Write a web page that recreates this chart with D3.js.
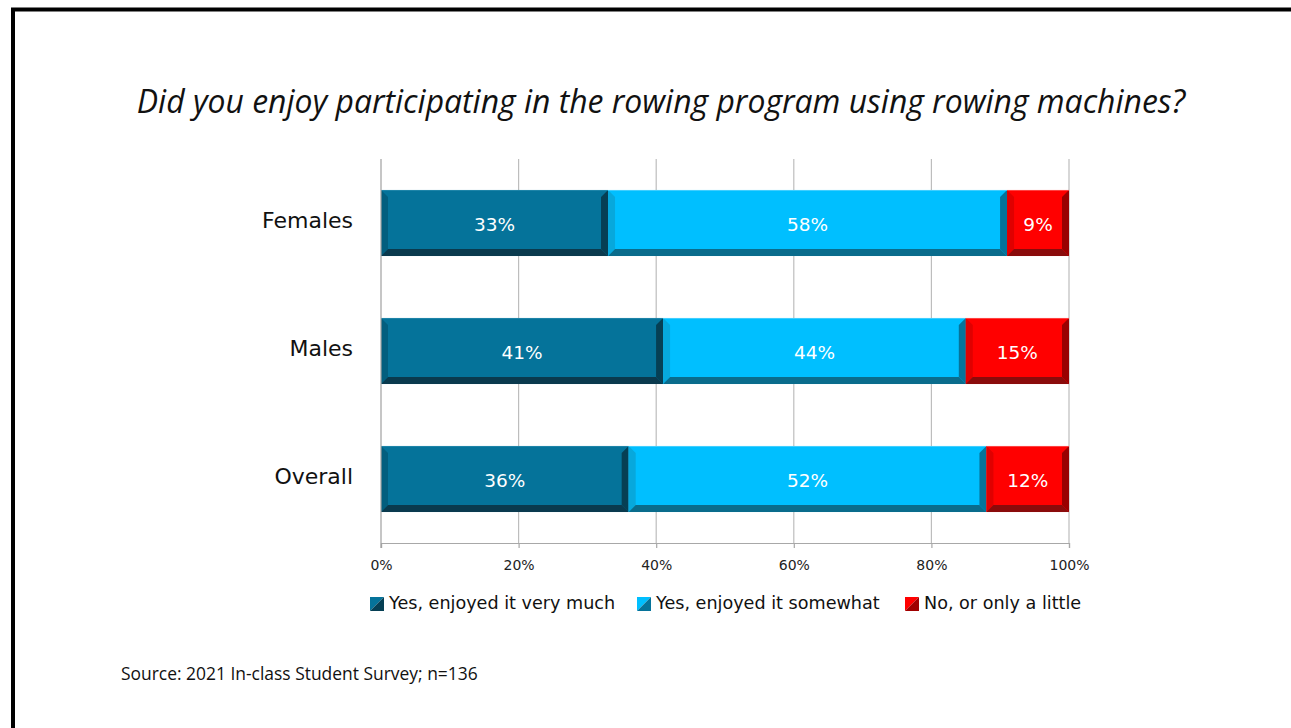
<!DOCTYPE html>
<html>
<head>
<meta charset="utf-8">
<script src="https://cdn.jsdelivr.net/npm/d3@7/dist/d3.min.js"></script>
<style>
  html, body { margin: 0; padding: 0; background: #fff; }
  svg { display: block; }
</style>
</head>
<body>
<svg id="chart" width="1291" height="728"></svg>
<script>
// Survey responses by group (percent)
const groups = ["Females", "Males", "Overall"];
const seriesNames = ["Yes, enjoyed it very much", "Yes, enjoyed it somewhat", "No, or only a little"];
const veryMuch = [33, 41, 36];
const somewhat = [58, 44, 52];
const little = [9, 15, 12];
const tickValues = [0, 20, 40, 60, 80, 100];

// Fill plus bevel shades for each series
const palette = [
  { main: "#05739a", top: "#2a8db0", left: "#035e7e", right: "#063f54", bottom: "#0a3a4e" },
  { main: "#00bfff", top: "#5fd6ff", left: "#07a8dc", right: "#06739a", bottom: "#0a6c8c" },
  { main: "#ff0000", top: "#ff6060", left: "#e00000", right: "#990000", bottom: "#8a0b0b" }
];

const svg = d3.select("#chart");
const W = 1291, H = 728;

// Slide frame
svg.append("path")
  .attr("d", `M13,${H} L13,9.5 L${W},9.5`)
  .attr("fill", "none").attr("stroke", "#000").attr("stroke-width", 4);

// Title
const title = svg.append("text")
  .attr("x", 661).attr("y", 113)
  .attr("text-anchor", "middle")
  .attr("font-family", "'Open Sans', sans-serif")
  .attr("font-style", "italic")
  .attr("font-size", 27)
  .attr("fill", "#111")
  .text("Did you enjoy participating in the rowing program using rowing machines?");
{
  const w = title.node().getComputedTextLength();
  title.attr("font-size", 27 * 1049 / w);
}

const margin = { left: 381, right: 1069, top: 159, bottom: 543 };
const x = d3.scaleLinear().domain([0, 100]).range([margin.left, margin.right]);
const y = d3.scaleBand().domain(groups).range([margin.top, margin.bottom]).paddingInner(0.484).paddingOuter(0.242);

// Gridlines
svg.append("g").selectAll("line")
  .data(tickValues.slice(1))
  .join("line")
  .attr("x1", d => x(d)).attr("x2", d => x(d))
  .attr("y1", margin.top).attr("y2", margin.bottom)
  .attr("stroke", "#bdbdbd").attr("stroke-width", 1.2);

// Bottom axis with ticks
const xAxis = d3.axisBottom(x).tickValues(tickValues).tickFormat(d => d + "%").tickSize(5).tickPadding(12);
const gx = svg.append("g").attr("transform", `translate(0,${margin.bottom})`).call(xAxis);
gx.select(".domain").attr("stroke", "#a8a8a8").attr("stroke-width", 1.2);
gx.selectAll(".tick line").attr("stroke", "#a8a8a8").attr("stroke-width", 1.2);
gx.selectAll(".tick text")
  .attr("font-family", "'DejaVu Sans', sans-serif")
  .attr("font-size", 14).attr("fill", "#222");

// Stacked data
const rows = groups.map((g, i) => ({ group: g, values: [veryMuch[i], somewhat[i], little[i]] }));
const segs = [];
rows.forEach(r => {
  let acc = 0;
  r.values.forEach((v, k) => {
    segs.push({ group: r.group, k, v, x0: acc, x1: acc + v });
    acc += v;
  });
});

const b = 7;
const barG = svg.append("g");
segs.forEach(s => {
  const x0 = x(s.x0), x1 = x(s.x1);
  const y0 = y(s.group), y1 = y0 + y.bandwidth();
  const c = palette[s.k];
  const g = barG.append("g");
  g.append("rect").attr("x", x0).attr("y", y0).attr("width", x1 - x0).attr("height", y1 - y0).attr("fill", c.main);
  const poly = (pts, fill) => g.append("polygon").attr("points", pts.map(p => p.join(",")).join(" ")).attr("fill", fill);
  poly([[x0, y0], [x0 + b, y0 + b], [x0 + b, y1 - b], [x0, y1]], c.left);
  poly([[x1, y0], [x1 - b, y0 + b], [x1 - b, y1 - b], [x1, y1]], c.right);
  poly([[x0, y1], [x0 + b, y1 - b], [x1 - b, y1 - b], [x1, y1]], c.bottom);
  // thin highlight along the top edge
  g.append("line").attr("x1", x0).attr("x2", x1).attr("y1", y0 + 0.5).attr("y2", y0 + 0.5)
    .attr("stroke", c.top).attr("stroke-width", 1).attr("opacity", 0.7);
  g.append("text")
    .attr("x", (x0 + x1) / 2).attr("y", (y0 + y1) / 2 + 1)
    .attr("text-anchor", "middle").attr("dominant-baseline", "central")
    .attr("font-family", "'DejaVu Sans', sans-serif")
    .attr("font-size", 18.5).attr("fill", "#fff")
    .text(s.v + "%");
});

// Left axis line drawn over bars' edge
svg.append("line")
  .attr("x1", margin.left).attr("x2", margin.left)
  .attr("y1", margin.top).attr("y2", margin.bottom + 5)
  .attr("stroke", "#a0a0a0").attr("stroke-width", 1.2);

// Category labels
svg.append("g").selectAll("text")
  .data(groups)
  .join("text")
  .attr("x", 353)
  .attr("y", d => y(d) + y.bandwidth() / 2 - 3)
  .attr("text-anchor", "end").attr("dominant-baseline", "central")
  .attr("font-family", "'DejaVu Sans', sans-serif")
  .attr("font-size", 22).attr("fill", "#111")
  .text(d => d);

// Legend
const legendX = [370, 637, 905];
const legend = svg.append("g");
seriesNames.forEach((name, k) => {
  const c = palette[k];
  const lx = legendX[k], ly = 597;
  const s = 14;
  legend.append("polygon").attr("points", `${lx},${ly} ${lx + s},${ly} ${lx},${ly + s}`).attr("fill", c.main);
  legend.append("polygon").attr("points", `${lx + s},${ly} ${lx + s},${ly + s} ${lx},${ly + s}`).attr("fill", k === 2 ? "#a00000" : c.right);
  legend.append("text")
    .attr("x", lx + s + 5).attr("y", ly + s / 2 - 1)
    .attr("dominant-baseline", "central")
    .attr("font-family", "'DejaVu Sans', sans-serif")
    .attr("font-size", 17.6).attr("fill", "#111")
    .text(name);
});

// Source note
const src = svg.append("text")
  .attr("x", 121).attr("y", 680)
  .attr("font-family", "'Open Sans', sans-serif")
  .attr("font-size", 15).attr("fill", "#111")
  .text("Source: 2021 In-class Student Survey; n=136");
{
  const w = src.node().getComputedTextLength();
  src.attr("font-size", 15 * 357 / w);
}
</script>
</body>
</html>
